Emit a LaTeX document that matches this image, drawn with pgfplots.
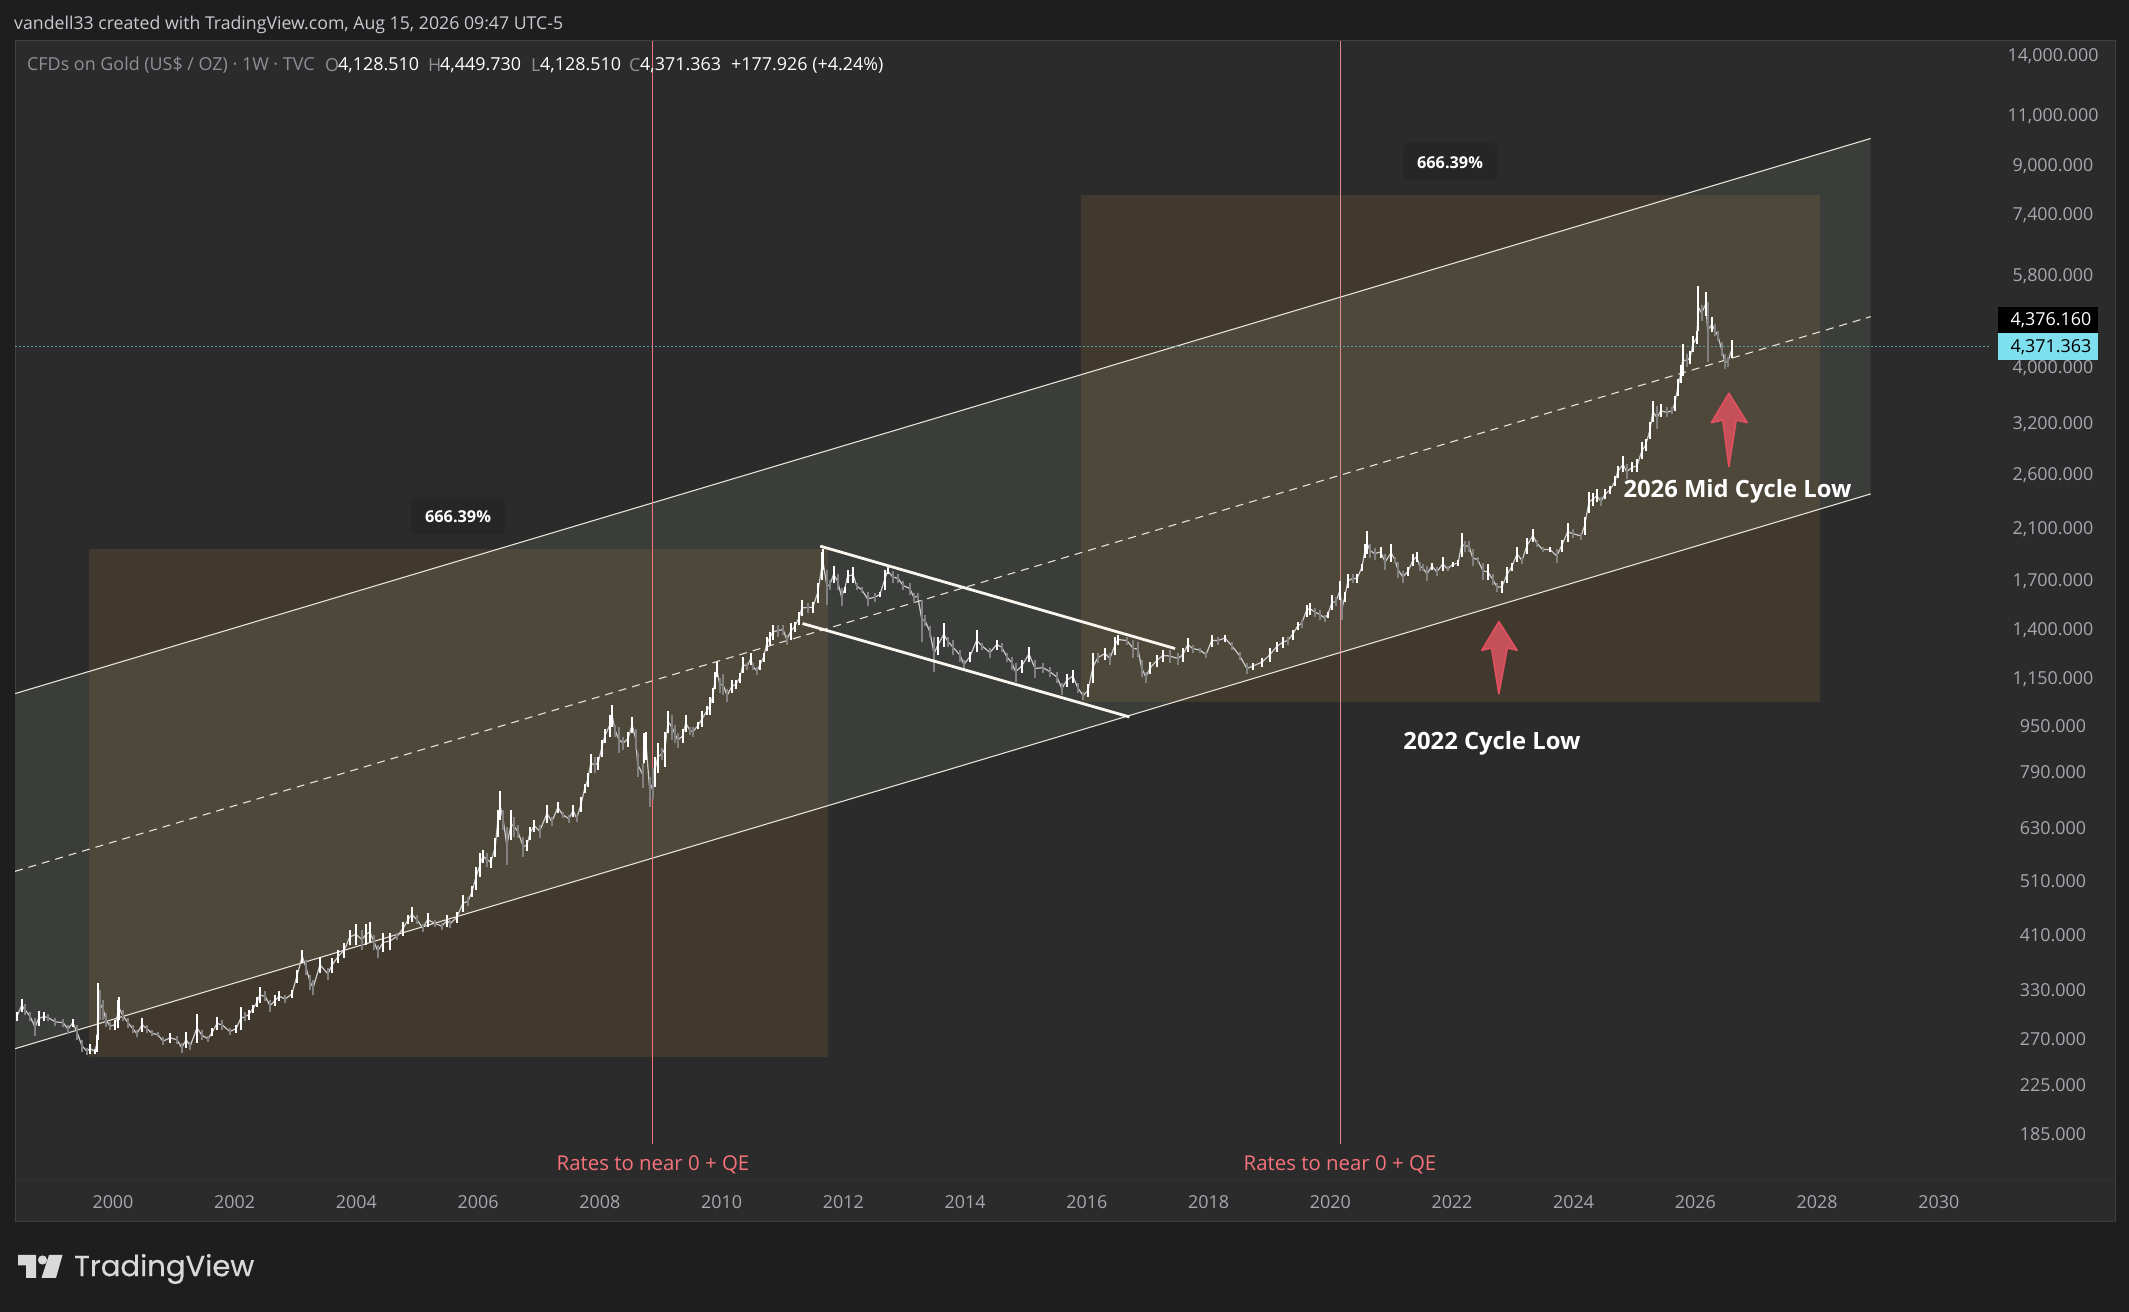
\documentclass[border=0pt]{standalone}
\usepackage{pgfplots}
\usepackage{pgfplotstable}
\usepackage{fontspec}
\pgfplotsset{compat=1.18}
\setmainfont{Open Sans}
\newfontfamily\logofont[FakeBold=0.4]{Poppins}
\definecolor{outerbg}{HTML}{1E1E1E}
\definecolor{panelbg}{HTML}{2B2B2B}
\definecolor{chanfill}{HTML}{3A3D3A}
\definecolor{boxfill}{RGB}{180,128,62}
\definecolor{chanline}{HTML}{E6E2DA}
\definecolor{redline}{HTML}{F7737B}
\definecolor{ticktext}{HTML}{A6A8B0}
\definecolor{headtext}{HTML}{C9CBD2}
\definecolor{legtext}{HTML}{8E9098}
\definecolor{cyanbox}{HTML}{7EE0EE}
\definecolor{arrowfill}{HTML}{C4505A}
\definecolor{arrowline}{HTML}{E0505E}
\definecolor{badge}{HTML}{262626}
\definecolor{axisfaint}{HTML}{2F3338}
\pgfplotstableread{
t hi lo d
1998.42 299 288 1
1998.50 315 299 1
1998.55 309 295 0
1998.64 299 288 0
1998.72 292 271 0
1998.78 300 283 1
1998.87 299 288 1
1998.93 297 288 0
1999.05 292 283 0
1999.18 291 282 0
1999.26 284 274 0
1999.34 291 282 1
1999.41 284 267 0
1999.49 267 255 0
1999.57 259 252 0
1999.62 263 253 1
1999.70 258 253 1
1999.74 273 255 1
1999.75 336 267 1
1999.79 327 290 0
1999.84 314 290 0
1999.88 298 282 0
1999.95 287 278 0
2000.03 290 278 1
2000.08 314 280 1
2000.10 318 290 1
2000.16 302 288 0
2000.25 292 280 0
2000.33 284 275 0
2000.39 278 270 0
2000.48 292 276 1
2000.56 284 275 0
2000.64 278 271 0
2000.74 276 270 0
2000.82 270 262 0
2000.94 275 264 1
2001.05 272 263 0
2001.13 264 254 0
2001.20 276 259 1
2001.27 265 257 0
2001.38 297 264 1
2001.46 278 267 0
2001.56 272 265 0
2001.63 280 271 1
2001.71 293 278 1
2001.79 290 278 0
2001.92 280 273 0
2002.02 284 275 1
2002.10 305 278 1
2002.17 299 288 0
2002.23 302 290 1
2002.30 308 298 1
2002.37 318 305 1
2002.41 330 310 1
2002.50 325 312 0
2002.58 314 299 0
2002.66 320 306 1
2002.73 325 312 1
2002.83 320 310 0
2002.94 327 316 1
2003.02 354 336 1
2003.11 384 364 1
2003.17 369 347 0
2003.24 347 327 0
2003.29 340 320 0
2003.40 373 350 1
2003.53 357 340 0
2003.60 372 350 1
2003.70 384 364 1
2003.80 395 372 1
2003.89 416 392 1
2003.99 425 392 1
2004.09 416 384 0
2004.16 425 392 1
2004.22 429 396 1
2004.29 408 384 0
2004.35 392 372 0
2004.44 411 380 1
2004.55 411 384 1
2004.67 411 400 0
2004.76 429 405 1
2004.85 442 425 1
2004.91 456 429 1
2004.99 442 425 0
2005.09 425 413 0
2005.17 445 421 1
2005.29 433 421 0
2005.40 428 416 0
2005.49 442 421 1
2005.54 433 419 0
2005.65 447 428 1
2005.75 479 447 1
2005.83 475 457 0
2005.90 495 475 1
2005.96 536 489 1
2006.03 567 514 1
2006.08 574 544 1
2006.14 567 536 0
2006.21 558 534 1
2006.28 602 558 1
2006.32 674 605 1
2006.36 725 647 1
2006.41 674 622 0
2006.47 628 540 0
2006.54 674 597 1
2006.59 655 605 0
2006.65 634 602 0
2006.74 605 558 0
2006.80 597 570 1
2006.85 628 597 1
2006.92 647 617 1
2007.01 634 602 0
2007.13 687 640 1
2007.21 655 630 0
2007.31 695 665 1
2007.39 668 652 0
2007.49 660 640 0
2007.56 687 655 1
2007.62 660 642 0
2007.69 710 668 1
2007.75 746 721 1
2007.80 782 739 1
2007.85 841 782 1
2007.92 832 782 0
2007.97 834 791 1
2008.03 893 834 1
2008.08 930 882 1
2008.16 987 903 1
2008.20 1028 941 1
2008.25 948 903 0
2008.31 941 847 0
2008.38 903 858 0
2008.46 922 868 1
2008.53 978 918 1
2008.59 930 858 0
2008.62 847 770 0
2008.71 811 736 0
2008.72 918 814 1
2008.76 922 824 1
2008.82 769 682 0
2008.87 797 702 0
2008.90 831 739 1
2008.95 882 782 1
2009.02 864 824 0
2009.07 922 800 1
2009.12 1000 918 1
2009.18 987 893 0
2009.23 948 882 0
2009.28 918 864 0
2009.36 930 882 1
2009.41 987 922 1
2009.48 941 911 0
2009.53 941 903 0
2009.61 960 930 1
2009.68 1000 941 1
2009.76 1020 987 1
2009.81 1060 987 1
2009.86 1100 1035 1
2009.89 1170 1092 1
2009.92 1220 1150 1
2009.97 1145 1078 0
2010.02 1160 1070 0
2010.09 1092 1040 0
2010.17 1136 1078 1
2010.23 1136 1092 1
2010.30 1168 1122 1
2010.35 1245 1168 1
2010.42 1216 1183 0
2010.48 1266 1207 1
2010.51 1216 1183 0
2010.58 1197 1155 0
2010.63 1231 1183 1
2010.69 1266 1221 1
2010.74 1350 1272 1
2010.79 1378 1308 1
2010.84 1417 1334 1
2010.92 1417 1350 0
2011.01 1417 1361 0
2011.07 1361 1308 0
2011.14 1428 1334 1
2011.20 1434 1378 1
2011.27 1493 1417 1
2011.32 1567 1464 1
2011.42 1548 1487 0
2011.50 1554 1487 1
2011.58 1677 1548 1
2011.65 1900 1698 1
2011.66 1916 1768 1
2011.73 1768 1536 0
2011.78 1698 1631 0
2011.84 1790 1678 1
2011.91 1733 1631 0
2011.97 1644 1524 0
2012.02 1650 1611 1
2012.07 1768 1678 1
2012.16 1783 1678 1
2012.22 1678 1631 0
2012.30 1650 1611 0
2012.40 1618 1524 0
2012.52 1611 1554 0
2012.60 1618 1580 1
2012.68 1768 1631 1
2012.73 1783 1733 1
2012.81 1754 1678 0
2012.90 1733 1678 0
2012.98 1685 1631 0
2013.09 1678 1599 0
2013.16 1611 1548 0
2013.22 1611 1567 0
2013.29 1567 1323 0
2013.34 1475 1407 0
2013.42 1407 1350 0
2013.49 1350 1173 0
2013.55 1350 1256 1
2013.65 1428 1297 1
2013.72 1350 1297 0
2013.80 1334 1256 0
2013.92 1282 1221 0
2013.98 1231 1183 0
2014.08 1271 1221 1
2014.19 1389 1271 1
2014.28 1318 1282 0
2014.41 1292 1241 0
2014.52 1334 1282 1
2014.60 1318 1271 0
2014.69 1266 1221 0
2014.77 1246 1183 0
2014.83 1216 1127 0
2014.93 1231 1168 1
2015.05 1297 1221 1
2015.15 1231 1145 0
2015.28 1216 1168 0
2015.39 1197 1150 0
2015.51 1173 1122 0
2015.59 1122 1070 0
2015.67 1160 1105 1
2015.77 1183 1122 1
2015.85 1122 1078 0
2015.94 1083 1048 0
2016.02 1114 1061 1
2016.10 1266 1122 1
2016.18 1266 1216 0
2016.30 1292 1231 1
2016.38 1266 1207 0
2016.46 1350 1256 1
2016.51 1361 1308 1
2016.66 1350 1308 0
2016.76 1334 1241 0
2016.84 1323 1246 0
2016.90 1231 1150 0
2016.97 1173 1122 0
2017.04 1221 1160 1
2017.15 1256 1197 1
2017.25 1282 1221 1
2017.36 1282 1216 0
2017.50 1266 1207 0
2017.58 1292 1221 1
2017.66 1345 1271 1
2017.74 1308 1266 0
2017.86 1292 1266 0
2017.96 1271 1241 0
2018.05 1361 1297 1
2018.15 1350 1308 0
2018.27 1361 1323 1
2018.38 1323 1282 0
2018.51 1271 1231 0
2018.63 1216 1160 0
2018.73 1216 1183 1
2018.88 1241 1197 1
2019.01 1292 1221 1
2019.12 1323 1271 1
2019.22 1350 1292 1
2019.30 1350 1308 0
2019.38 1389 1334 1
2019.47 1434 1389 1
2019.53 1446 1400 0
2019.61 1536 1463 1
2019.66 1548 1475 1
2019.75 1517 1463 0
2019.83 1505 1446 0
2019.91 1475 1434 0
2019.96 1493 1457 1
2020.03 1599 1505 1
2020.09 1580 1524 0
2020.16 1685 1567 1
2020.19 1567 1446 0
2020.24 1618 1554 1
2020.29 1733 1644 1
2020.37 1733 1678 0
2020.44 1733 1678 1
2020.52 1811 1754 1
2020.57 1960 1855 1
2020.60 2060 1885 1
2020.65 1960 1855 0
2020.73 1931 1840 0
2020.83 1939 1855 1
2020.90 1878 1768 0
2021.00 1955 1825 1
2021.06 1862 1818 0
2021.11 1825 1712 0
2021.19 1754 1678 0
2021.27 1783 1719 1
2021.36 1878 1790 1
2021.42 1900 1825 1
2021.47 1825 1754 0
2021.52 1804 1754 0
2021.59 1790 1685 0
2021.67 1818 1768 1
2021.75 1783 1719 0
2021.85 1862 1754 1
2021.93 1790 1754 0
2022.01 1825 1783 1
2022.10 1840 1790 1
2022.16 2050 1862 1
2022.21 1986 1900 0
2022.28 1986 1900 0
2022.34 1916 1790 0
2022.42 1862 1818 0
2022.51 1818 1698 0
2022.59 1804 1698 1
2022.67 1733 1664 0
2022.74 1678 1618 0
2022.82 1685 1611 1
2022.90 1783 1678 1
2022.98 1818 1754 1
2023.07 1939 1825 1
2023.15 1862 1804 0
2023.23 2010 1878 1
2023.33 2076 1978 1
2023.39 1994 1939 0
2023.49 1939 1893 0
2023.61 1939 1893 1
2023.72 1916 1818 0
2023.80 1994 1893 1
2023.90 2135 1978 1
2023.98 2076 2010 0
2024.12 2050 1994 0
2024.18 2185 2034 1
2024.25 2418 2216 1
2024.31 2408 2277 1
2024.38 2438 2314 1
2024.45 2370 2277 0
2024.51 2438 2342 1
2024.59 2468 2390 1
2024.68 2570 2468 1
2024.72 2674 2558 1
2024.81 2784 2610 1
2024.87 2697 2538 0
2024.96 2718 2610 1
2025.04 2751 2610 1
2025.12 2946 2751 1
2025.18 2981 2840 1
2025.25 3192 2981 1
2025.30 3472 3192 1
2025.37 3403 3103 0
2025.43 3431 3256 1
2025.53 3390 3256 0
2025.61 3390 3296 0
2025.66 3545 3336 1
2025.71 3794 3545 1
2025.76 4024 3745 1
2025.79 4365 3840 1
2025.86 4195 3980 0
2025.91 4245 4030 1
2025.96 4510 4228 1
2026.02 4600 4365 1
2026.05 5530 4600 1
2026.10 5110 4790 0
2026.17 5380 4890 1
2026.20 5170 4075 0
2026.27 4870 4580 1
2026.32 4730 4510 0
2026.37 4600 4420 0
2026.43 4400 4160 0
2026.48 4195 3950 0
2026.53 4145 3980 0
2026.60 4450 4128 1
}\goldbars
\begin{document}
\begin{tikzpicture}[x=1pt,y=1pt]
\useasboundingbox (0,0) rectangle (2129,1312);
\fill[outerbg] (0,0) rectangle (2129,1312);
\fill[panelbg,draw=panelbg!90!white,line width=1pt] (15,90) rectangle (2115,1271);
\draw[axisfaint,line width=1pt] (15,132) -- (2115,132);
\begin{axis}[
  at={(15pt,132pt)}, anchor=south west,
  width=1975pt, height=1139pt, scale only axis,
  xmin=1998.39, xmax=2030.84,
  ymode=log, ymin=152.3, ymax=14768,
  axis x line*=bottom, axis y line*=right,
  x axis line style={draw=axisfaint,line width=1pt},
  y axis line style={draw=none},
  major tick length=0pt, minor tick length=0pt,
  xtick={2000,2002,2004,2006,2008,2010,2012,2014,2016,2018,2020,2022,2024,2026,2028,2030},
  xticklabels={2000,2002,2004,2006,2008,2010,2012,2014,2016,2018,2020,2022,2024,2026,2028,2030},
  ytick={14000,11000,9000,7400,5800,4000,3200,2600,2100,1700,1400,1150,950,790,630,510,410,330,270,225,185},
  yticklabels={{14,000.000},{11,000.000},{9,000.000},{7,400.000},{5,800.000},{4,000.000},{3,200.000},{2,600.000},{2,100.000},{1,700.000},{1,400.000},{1,150.000},{950.000},{790.000},{630.000},{510.000},{410.000},{330.000},{270.000},{225.000},{185.000}},
  yticklabel style={anchor=center,xshift=63pt,yshift=-2.2pt,text=ticktext,font=\fontsize{17.9}{20}\selectfont},
  xticklabel style={anchor=center,yshift=-21.7pt,text=ticktext,font=\fontsize{17.9}{20}\selectfont},
  clip=true,
]
% regression channel fill
\addplot[draw=none,fill=chanfill,forget plot] coordinates {(1998.39,1074)(2028.88,9982)(2028.88,2395)(1998.39,258)} --cycle;
% price range boxes
\addplot[draw=none,fill=boxfill,fill opacity=0.17,forget plot] coordinates {(1999.61,1916)(2011.75,1916)(2011.75,250)(1999.61,250)} --cycle;
\addplot[draw=none,fill=boxfill,fill opacity=0.17,forget plot] coordinates {(2015.90,7941)(2028.04,7941)(2028.04,1040)(2015.90,1040)} --cycle;
% channel lines
\addplot[chanline,line width=1.1pt,forget plot] coordinates {(1998.39,1074)(2028.88,9982)};
\addplot[chanline,line width=1.1pt,forget plot] coordinates {(1998.39,258)(2028.88,2395)};
\addplot[chanline,line width=1.1pt,dash pattern=on 8pt off 6pt,forget plot] coordinates {(1998.39,526)(2028.88,4881)};
% vertical lines
\addplot[redline,line width=1pt,forget plot] coordinates {(2008.86,175.9)(2008.86,14768)};
\addplot[redline!70!white,opacity=0.85,line width=1pt,forget plot] coordinates {(2020.16,175.9)(2020.16,14768)};
% last price
\addplot[cyanbox!70!black,line width=1.2pt,dash pattern=on 1.5pt off 2.5pt,forget plot] coordinates {(1998.39,4327)(2030.84,4327)};
% close trace and bars
\addplot[color=white!80!black,line width=1.2pt,forget plot] table[x=t,y expr=(\thisrow{hi}+\thisrow{lo})/2] {\goldbars};
\addplot[draw=none,mark=none,forget plot,
  error bars/.cd,y dir=plus,y explicit,error mark=none,
  error bar style={color=white!50!black,line width=2pt}]
  table[x=t,y expr=\thisrow{d}>0 ? nan : \thisrow{lo},y error plus expr=\thisrow{hi}-\thisrow{lo}] {\goldbars};
\addplot[draw=none,mark=none,forget plot,
  error bars/.cd,y dir=plus,y explicit,error mark=none,
  error bar style={color=white,line width=2pt}]
  table[x=t,y expr=\thisrow{d}>0 ? \thisrow{lo} : nan,y error plus expr=\thisrow{hi}-\thisrow{lo}] {\goldbars};
% falling channel
\addplot[white!92!boxfill,line width=2.8pt,forget plot] coordinates {(2011.62,1942)(2017.45,1287)};
\addplot[white!92!boxfill,line width=2.8pt,forget plot] coordinates {(2011.33,1423)(2016.70,978)};
% arrows
\addplot[draw=arrowline,fill=arrowfill,line width=1.6pt,line join=round,forget plot] coordinates {(2022.77,1434)(2023.07,1278)(2022.91,1290)(2022.77,1073)(2022.65,1290)(2022.49,1278)} --cycle;
\addplot[draw=arrowline,fill=arrowfill,line width=1.6pt,line join=round,forget plot] coordinates {(2026.55,3588)(2026.85,3188)(2026.67,3223)(2026.55,2672)(2026.45,3223)(2026.26,3188)} --cycle;
\end{axis}
% price scale labels
\fill[black] (1998.4,979) rectangle (2097.6,1005);
\fill[cyanbox] (1998.4,952) rectangle (2097.6,979);
\node[white,font=\fontsize{17.9}{20}\selectfont] at (2051,991.5) {4,376.160};
\node[black,font=\fontsize{17.9}{20}\selectfont] at (2051,965) {4,371.363};
% annotations
\node[redline,font=\fontsize{20.4}{23}\selectfont] at (653,147) {Rates to near 0 + QE};
\node[redline,font=\fontsize{20.4}{23}\selectfont] at (1340,147) {Rates to near 0 + QE};
\node[white,font=\fontsize{23.8}{27}\selectfont\bfseries] at (1492,569) {2022 Cycle Low};
\node[white,font=\fontsize{23.8}{27}\selectfont\bfseries] at (1737.5,820.5) {2026 Mid Cycle Low};
\fill[badge,rounded corners=6pt] (1403,1131.3) rectangle (1497,1169);
\node[white,font=\fontsize{16.3}{18}\selectfont\bfseries] at (1450,1149.5) {666.39\%};
\fill[badge,rounded corners=6pt] (411,777) rectangle (505,815);
\node[white,font=\fontsize{16.3}{18}\selectfont\bfseries] at (458,795.5) {666.39\%};
% header
\node[headtext,anchor=west,inner sep=0pt,font=\fontsize{17.7}{20}\selectfont] at (14,1287.5) {vandell33 created with TradingView.com, Aug 15, 2026 09:47 UTC-5};
\node[legtext,anchor=west,inner sep=0pt,font=\fontsize{17.9}{20}\selectfont] at (27,1247) {CFDs on Gold (US\$ / OZ) · 1W · TVC};
\node[legtext,anchor=west,inner sep=0pt,font=\fontsize{17.9}{20}\selectfont] at (325,1247) {O};
\node[white,anchor=west,inner sep=0pt,font=\fontsize{17.9}{20}\selectfont] at (338,1247) {4,128.510};
\node[legtext,anchor=west,inner sep=0pt,font=\fontsize{17.9}{20}\selectfont] at (428,1247) {H};
\node[white,anchor=west,inner sep=0pt,font=\fontsize{17.9}{20}\selectfont] at (440,1247) {4,449.730};
\node[legtext,anchor=west,inner sep=0pt,font=\fontsize{17.9}{20}\selectfont] at (531,1247) {L};
\node[white,anchor=west,inner sep=0pt,font=\fontsize{17.9}{20}\selectfont] at (540,1247) {4,128.510};
\node[legtext,anchor=west,inner sep=0pt,font=\fontsize{17.9}{20}\selectfont] at (629,1247) {C};
\node[white,anchor=west,inner sep=0pt,font=\fontsize{17.9}{20}\selectfont] at (640,1247) {4,371.363};
\node[white,anchor=west,inner sep=0pt,font=\fontsize{17.9}{20}\selectfont] at (731,1247) {+177.926 (+4.24\%)};
% logo
\fill[white!85!black] (18,57) rectangle (36,46.5) (26,46.5) rectangle (36,34);
\fill[white!85!black] (42.5,52) circle (4.6);
\fill[white!85!black] (49,57) -- (62.5,57) -- (56,34) -- (41.5,34) -- cycle;
\node[white!85!black,anchor=west,inner sep=0pt,font=\logofont] at (74,43) {\resizebox{180pt}{!}{TradingView}};
\end{tikzpicture}
\end{document}
